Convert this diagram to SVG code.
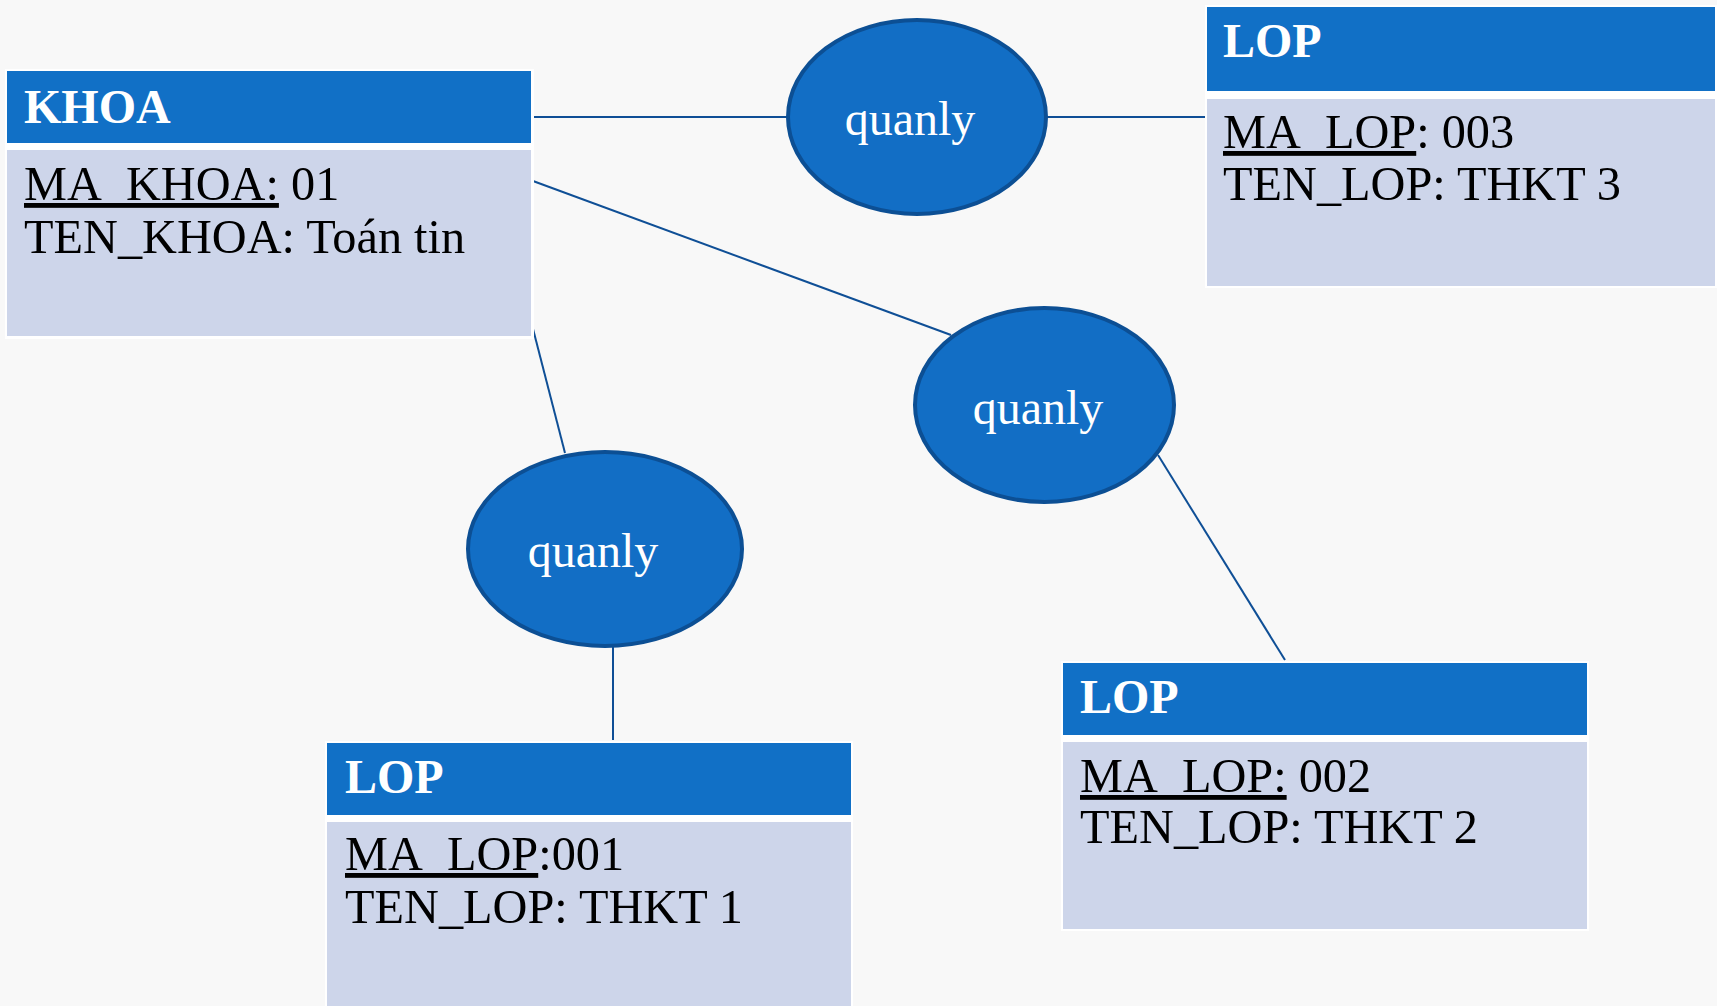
<svg xmlns="http://www.w3.org/2000/svg" width="1717" height="1006" viewBox="0 0 1717 1006">
<style>
.bg{fill:#f8f8f8}
.frame{fill:#ffffff}
.hdr{fill:#1170c6}
.body{fill:#cdd5ea}
.title{font-family:"Liberation Serif",serif;font-weight:bold;font-size:48px;fill:#ffffff}
.attr{font-family:"Liberation Serif",serif;font-size:48.3px;fill:#000000}
.u{text-decoration:underline}
.rel{fill:#126ec5;stroke:#0c4f94;stroke-width:4}
.rlabel{font-family:"Liberation Serif",serif;font-size:48px;fill:#ffffff;text-anchor:middle}
.conn{stroke:#0f4f96;stroke-width:2;fill:none}
</style>
<rect class="bg" x="0" y="0" width="1717" height="1006"/>
<g id="connectors">
<line class="conn" x1="533" y1="117" x2="788" y2="117"/>
<line class="conn" x1="1047" y1="117" x2="1205" y2="117"/>
<line class="conn" x1="533" y1="181" x2="951" y2="335"/>
<line class="conn" x1="532" y1="325" x2="565" y2="453"/>
<line class="conn" x1="613" y1="647" x2="613" y2="740"/>
<line class="conn" x1="1158" y1="455" x2="1285" y2="660"/>
</g>
<g id="khoa">
<rect class="frame" x="5" y="69" width="529" height="270"/>
<rect class="hdr" x="7" y="71" width="524" height="72"/>
<rect class="body" x="7" y="150" width="524" height="186"/>
<text class="title" x="24" y="123">KHOA</text>
<text class="attr" x="24" y="200"><tspan class="u">MA_KHOA:</tspan> 01</text>
<text class="attr" x="24" y="253">TEN_KHOA: Toán tin</text>
</g>
<g id="lop3">
<rect class="frame" x="1205" y="5" width="512" height="283"/>
<rect class="hdr" x="1207" y="7" width="508" height="84"/>
<rect class="body" x="1207" y="99" width="508" height="187"/>
<text class="title" x="1223" y="57">LOP</text>
<text class="attr" x="1223" y="148"><tspan class="u">MA_LOP</tspan>: 003</text>
<text class="attr" x="1223" y="200">TEN_LOP: THKT 3</text>
</g>
<g id="lop1">
<rect class="frame" x="325" y="741" width="528" height="265"/>
<rect class="hdr" x="327" y="743" width="524" height="72"/>
<rect class="body" x="327" y="822" width="524" height="184"/>
<text class="title" x="345" y="793">LOP</text>
<text class="attr" x="345" y="870"><tspan class="u">MA_LOP</tspan>:001</text>
<text class="attr" x="345" y="923">TEN_LOP: THKT 1</text>
</g>
<g id="lop2">
<rect class="frame" x="1061" y="661" width="528" height="270"/>
<rect class="hdr" x="1063" y="663" width="524" height="72"/>
<rect class="body" x="1063" y="742" width="524" height="187"/>
<text class="title" x="1080" y="713">LOP</text>
<text class="attr" x="1080" y="792"><tspan class="u">MA_LOP:</tspan> 002</text>
<text class="attr" x="1080" y="843">TEN_LOP: THKT 2</text>
</g>
<g id="quanly1">
<ellipse class="rel" cx="917" cy="117" rx="129" ry="97"/>
<text class="rlabel" x="910" y="135">quanly</text>
</g>
<g id="quanly2">
<ellipse class="rel" cx="1044.5" cy="405" rx="129.5" ry="97"/>
<text class="rlabel" x="1038" y="424">quanly</text>
</g>
<g id="quanly3">
<ellipse class="rel" cx="605" cy="549" rx="137" ry="97"/>
<text class="rlabel" x="593" y="567">quanly</text>
</g>
</svg>
